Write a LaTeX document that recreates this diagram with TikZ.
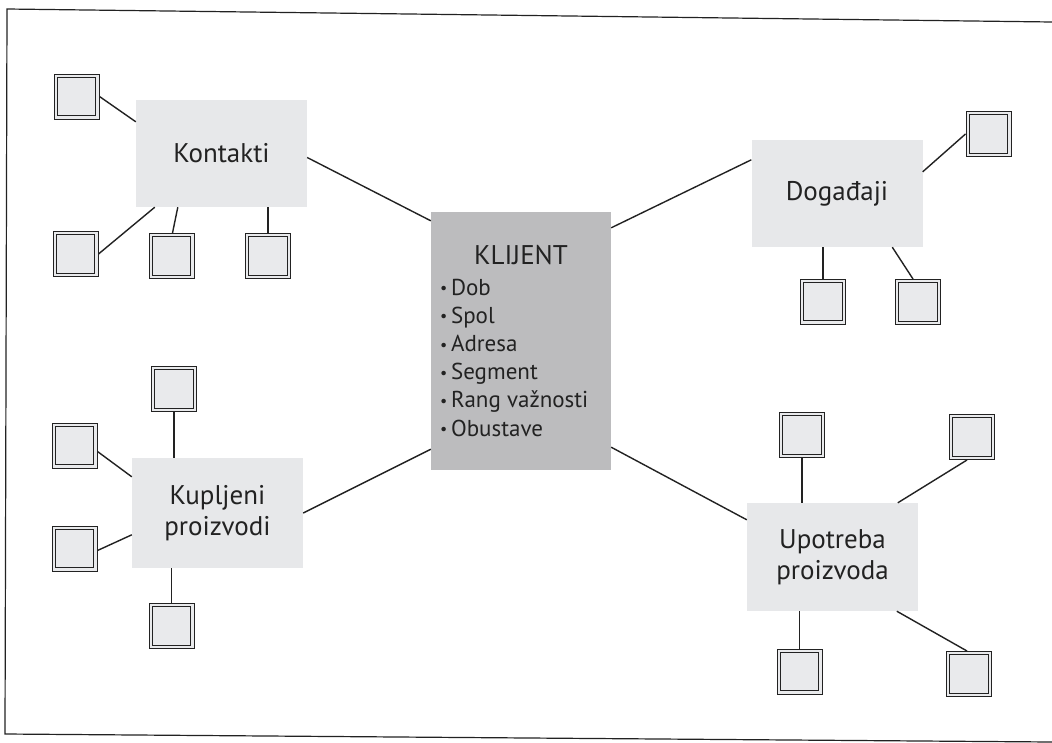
\documentclass[tikz,border=0pt]{standalone}
\usepackage{fontspec}
\setmainfont{PT Sans}
\usetikzlibrary{calc}
\definecolor{lightbox}{HTML}{E7E8EA}
\definecolor{centerbox}{HTML}{BCBCBE}
\definecolor{inkc}{HTML}{222222}
\definecolor{sqfill}{HTML}{E9EAEC}
\tikzset{
  topic/.style={fill=lightbox, minimum width=171pt, minimum height=107pt, inner sep=0pt,
    align=center, text=inkc, font=\fontsize{27}{31}\selectfont},
  centerbox/.style={fill=centerbox, minimum width=180pt, minimum height=258pt, inner sep=0pt, text=inkc},
  sq/.style={draw=inkc, line width=1pt, fill=sqfill, minimum size=45pt, inner sep=0pt,
    path picture={\draw[inkc, line width=0.9pt]
      ([shift={(3.4pt,-3.4pt)}]path picture bounding box.north west) rectangle
      ([shift={(-3.4pt,3.4pt)}]path picture bounding box.south east);}},
  link/.style={draw=inkc, line width=1.4pt},
  frameline/.style={draw=inkc, line width=1.2pt}
}
\newcommand{\itm}[1]{\raisebox{0.12ex}{\fontsize{16}{16}\selectfont\textbullet}\,#1}
\begin{document}
\begin{tikzpicture}[x=1pt,y=-1pt]
\useasboundingbox[fill=white] (0,0) rectangle (1052,742);
% frame
\draw[frameline] (1052,22) -- (7,9) -- (5,734) -- (1052,742);

% central node
\node[centerbox] (klijent) at (521,341) {\parbox{162pt}{%
  {\centering\fontsize{27}{30}\selectfont KLIJENT\par}\vspace{2pt}%
  \fontsize{23}{28.2}\selectfont\raggedright
  \itm{Dob}\\ \itm{Spol}\\ \itm{Adresa}\\ \itm{Segment}\\ \itm{Rang važnosti}\\ \itm{Obustave}}};

% topic nodes
\node[topic] (kont) at (221.5,153.5) {Kontakti};
\node[topic] (dog) at (837,193.5) {Događaji};
\node[topic, minimum height=110pt] (kup) at (217.5,513) {Kupljeni\\proizvodi};
\node[topic, minimum height=108pt] (upo) at (832.5,557) {Upotreba\\proizvoda};

% squares
\node[sq] (k1) at (76.5,96.5) {};
\node[sq] (k2) at (75.5,254) {};
\node[sq] (k3) at (171.5,256) {};
\node[sq] (k4) at (268,256) {};
\node[sq] (d1) at (988.5,134) {};
\node[sq] (d2) at (823,301.5) {};
\node[sq] (d3) at (918,302) {};
\node[sq] (p1) at (174,389) {};
\node[sq] (p2) at (74.5,445.5) {};
\node[sq] (p3) at (74.5,548.5) {};
\node[sq] (p4) at (171.5,626) {};
\node[sq] (u1) at (802,435) {};
\node[sq] (u2) at (972,437) {};
\node[sq] (u3) at (799.5,671.5) {};
\node[sq] (u4) at (969,674) {};

% connectors to central node
\draw[link] ($(kont.east)+(0,4)$) -- ($(klijent.north west)+(0,9)$);
\draw[link] ($(klijent.north east)+(0,16)$) -- ($(dog.north west)+(0,20)$);
\draw[link] (kup.east) -- ($(klijent.south west)+(0,-21)$);
\draw[link] ($(klijent.south east)+(0,-23)$) -- ($(upo.north west)+(0,17)$);

% Kontakti
\draw[link] (k1.east) -- ($(kont.north west)+(0,22)$);
\draw[link] (k2.east) -- ($(kont.south west)+(19,0)$);
\draw[link] ($(k3.north)+(1,0)$) -- ($(kont.south west)+(42,0)$);
\draw[link] (k4.north) -- (k4.north |- kont.south);

% Dogadjaji
\draw[link] (d1.west) -- ($(dog.north east)+(0,32)$);
\draw[link] (d2.north) -- (d2.north |- dog.south);
\draw[link] ($(d3.north)+(-5,0)$) -- ($(dog.south west)+(141,0)$);

% Kupljeni
\draw[link] (p1.south) -- (p1.south |- kup.north);
\draw[link] ($(p2.east)+(0,6)$) -- ($(kup.north west)+(0,19)$);
\draw[link] ($(p3.east)+(0,2)$) -- ($(kup.north west)+(0,77)$);
\draw[link] (p4.north) -- (p4.north |- kup.south);

% Upotreba
\draw[link] (u1.south) -- (u1.south |- upo.north);
\draw[link] ($(u2.south)+(-5,0)$) -- ($(upo.north west)+(151,0)$);
\draw[link] (u3.north) -- (u3.north |- upo.south);
\draw[link] ($(u4.north)+(-2,0)$) -- ($(upo.south west)+(150,0)$);
\end{tikzpicture}
\end{document}
